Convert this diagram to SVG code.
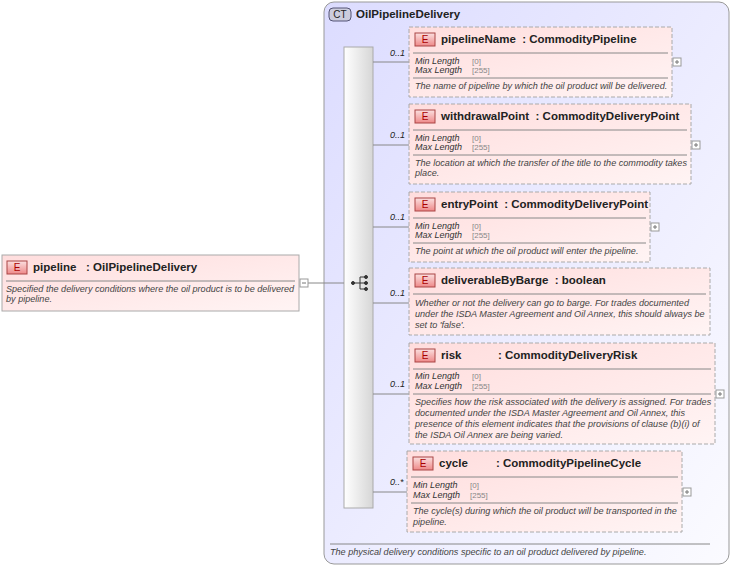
<svg xmlns="http://www.w3.org/2000/svg" width="733" height="567" viewBox="0 0 733 567">
<defs>
<linearGradient id="eg" x1="0" y1="0" x2="1" y2="1"><stop offset="0" stop-color="#fdd"/><stop offset="1" stop-color="#fff4f4"/></linearGradient>
<linearGradient id="ctg" x1="0" y1="0" x2="1" y2="1"><stop offset="0" stop-color="#dcdcff"/><stop offset="1" stop-color="#fbfbff"/></linearGradient>
<linearGradient id="bar" x1="0" y1="0" x2="1" y2="0"><stop offset="0" stop-color="#fff"/><stop offset="1" stop-color="#d6d6d6"/></linearGradient>
<linearGradient id="badge" x1="0" y1="0" x2="0" y2="1"><stop offset="0" stop-color="#fbe0e0"/><stop offset="1" stop-color="#e88"/></linearGradient>
</defs>
<style>
text{font-family:"Liberation Sans",Arial,sans-serif;fill:#222;white-space:pre}
.t{font-size:11.5px;font-weight:bold}
.s{font-size:9px;font-style:italic;fill:#333}
.v{font-size:8px;fill:#888}
.d{font-size:9.1px;font-style:italic;fill:#444}
.el{fill:url(#eg);stroke:#aaa;stroke-dasharray:4,2}
.es{fill:url(#eg);stroke:#aaa}
.ln{stroke:#888;stroke-width:1}
.c{stroke:#888;fill:none}
.bx{fill:#fff;stroke:#999}
.E{fill:url(#badge);stroke:#a44}
.Et{font-size:10px;fill:#a00;text-anchor:middle}
</style>
<g id="ct">
<rect x="324" y="2" width="405" height="562" rx="10" fill="url(#ctg)" stroke="#999"/>
<rect x="329" y="8" width="22" height="13" rx="4" fill="#ccd" stroke="#557"/>
<text x="340" y="18" font-size="10" text-anchor="middle" fill="#335">CT</text>
<text class="t" x="356" y="18">OilPipelineDelivery</text>
<line class="ln" x1="330" y1="544" x2="710" y2="544"/>
<text class="d" x="330" y="555">The physical delivery conditions specific to an oil product delivered by pipeline.</text>
<rect x="344" y="47" width="29" height="461" fill="url(#bar)" stroke="#aaa"/>
<g fill="#333" stroke="#333"><circle cx="353" cy="283" r="1.5"/><line x1="353" y1="283" x2="360" y2="283"/><line x1="360" y1="277" x2="360" y2="289"/><line x1="360" y1="277" x2="365" y2="277"/><line x1="360" y1="283" x2="365" y2="283"/><line x1="360" y1="289" x2="365" y2="289"/><circle cx="366" cy="277" r="1.5"/><circle cx="366" cy="283" r="1.5"/><circle cx="366" cy="289" r="1.5"/></g>
</g>
<g id="connectors">
<line class="c" x1="308" y1="283" x2="344" y2="283"/>
<line class="c" x1="373" y1="62" x2="409" y2="62"/>
<line class="c" x1="373" y1="145" x2="409" y2="145"/>
<line class="c" x1="373" y1="227" x2="409" y2="227"/>
<line class="c" x1="373" y1="303" x2="409" y2="303"/>
<line class="c" x1="373" y1="394" x2="409" y2="394"/>
<line class="c" x1="373" y1="492" x2="407" y2="492"/>
<g class="s"><text x="390" y="56">0..1</text><text x="390" y="138">0..1</text><text x="390" y="220">0..1</text><text x="390" y="296">0..1</text><text x="390" y="387">0..1</text><text x="390" y="485">0..*</text></g>
</g>
<g id="pipeline">
<rect class="es" x="2" y="255" width="297" height="56"/>
<rect class="E" x="7" y="261" width="20" height="13"/><text class="Et" x="17" y="271">E</text>
<text class="t" x="33" y="271">pipeline   : OilPipelineDelivery</text>
<line class="ln" x1="6" y1="281" x2="295" y2="281"/>
<text class="d" x="6" y="292">Specified the delivery conditions where the oil product is to be delivered</text>
<text class="d" x="6" y="302">by pipeline.</text>
<rect class="bx" x="300" y="279" width="8" height="8"/><line x1="302" y1="283" x2="306" y2="283" stroke="#777"/>
</g>
<g id="pipelineName">
<rect class="el" x="409" y="27" width="263" height="70"/>
<rect class="E" x="415" y="33" width="20" height="13"/><text class="Et" x="425" y="43">E</text>
<text class="t" x="441" y="43">pipelineName  : CommodityPipeline</text>
<line class="ln" x1="413" y1="53" x2="668" y2="53"/>
<text class="s" x="415" y="64">Min Length</text><text class="v" x="472" y="64">[0]</text>
<text class="s" x="415" y="73">Max Length</text><text class="v" x="472" y="73">[255]</text>
<line class="ln" x1="413" y1="78" x2="668" y2="78"/>
<text class="d" x="415" y="89">The name of pipeline by which the oil product will be delivered.</text>
<rect class="bx" x="673" y="58" width="8" height="8"/><path d="M675 62h4M677 60v4" stroke="#777"/>
</g>
<g id="withdrawalPoint">
<rect class="el" x="409" y="104" width="282" height="80"/>
<rect class="E" x="415" y="110" width="20" height="13"/><text class="Et" x="425" y="120">E</text>
<text class="t" x="441" y="120">withdrawalPoint  : CommodityDeliveryPoint</text>
<line class="ln" x1="413" y1="130" x2="687" y2="130"/>
<text class="s" x="415" y="141">Min Length</text><text class="v" x="472" y="141">[0]</text>
<text class="s" x="415" y="150">Max Length</text><text class="v" x="472" y="150">[255]</text>
<line class="ln" x1="413" y1="155" x2="687" y2="155"/>
<text class="d" x="415" y="166">The location at which the transfer of the title to the commodity takes</text>
<text class="d" x="415" y="176">place.</text>
<rect class="bx" x="692" y="141" width="8" height="8"/><path d="M694 145h4M696 143v4" stroke="#777"/>
</g>
<g id="entryPoint">
<rect class="el" x="409" y="192" width="241" height="70"/>
<rect class="E" x="415" y="198" width="20" height="13"/><text class="Et" x="425" y="208">E</text>
<text class="t" x="441" y="208">entryPoint  : CommodityDeliveryPoint</text>
<line class="ln" x1="413" y1="218" x2="646" y2="218"/>
<text class="s" x="415" y="229">Min Length</text><text class="v" x="472" y="229">[0]</text>
<text class="s" x="415" y="238">Max Length</text><text class="v" x="472" y="238">[255]</text>
<line class="ln" x1="413" y1="243" x2="646" y2="243"/>
<text class="d" x="415" y="254">The point at which the oil product will enter the pipeline.</text>
<rect class="bx" x="651" y="223" width="8" height="8"/><path d="M653 227h4M655 225v4" stroke="#777"/>
</g>
<g id="deliverableByBarge">
<rect class="el" x="409" y="268" width="301" height="67"/>
<rect class="E" x="415" y="274" width="20" height="13"/><text class="Et" x="425" y="284">E</text>
<text class="t" x="441" y="284">deliverableByBarge  : boolean</text>
<line class="ln" x1="413" y1="294" x2="706" y2="294"/>
<text class="d" x="415" y="306">Whether or not the delivery can go to barge. For trades documented</text>
<text class="d" x="415" y="317">under the ISDA Master Agreement and Oil Annex, this should always be</text>
<text class="d" x="415" y="328">set to 'false'.</text>
</g>
<g id="risk">
<rect class="el" x="409" y="343" width="306" height="101"/>
<rect class="E" x="415" y="349" width="20" height="13"/><text class="Et" x="425" y="359">E</text>
<text class="t" x="441" y="359">risk</text><text class="t" x="498" y="359">: CommodityDeliveryRisk</text>
<line class="ln" x1="413" y1="369" x2="711" y2="369"/>
<text class="s" x="415" y="379">Min Length</text><text class="v" x="472" y="379">[0]</text>
<text class="s" x="415" y="389">Max Length</text><text class="v" x="472" y="389">[255]</text>
<line class="ln" x1="413" y1="394" x2="711" y2="394"/>
<text class="d" x="415" y="405">Specifies how the risk associated with the delivery is assigned. For trades</text>
<text class="d" x="415" y="416">documented under the ISDA Master Agreement and Oil Annex, this</text>
<text class="d" x="415" y="427">presence of this element indicates that the provisions of clause (b)(i) of</text>
<text class="d" x="415" y="438">the ISDA Oil Annex are being varied.</text>
<rect class="bx" x="716" y="390" width="8" height="8"/><path d="M718 394h4M720 392v4" stroke="#777"/>
</g>
<g id="cycle">
<rect class="el" x="407" y="451" width="275" height="81"/>
<rect class="E" x="413" y="457" width="20" height="13"/><text class="Et" x="423" y="467">E</text>
<text class="t" x="439" y="467">cycle</text><text class="t" x="496" y="467">: CommodityPipelineCycle</text>
<line class="ln" x1="411" y1="477" x2="678" y2="477"/>
<text class="s" x="413" y="488">Min Length</text><text class="v" x="470" y="488">[0]</text>
<text class="s" x="413" y="498">Max Length</text><text class="v" x="470" y="498">[255]</text>
<line class="ln" x1="411" y1="503" x2="678" y2="503"/>
<text class="d" x="413" y="514">The cycle(s) during which the oil product will be transported in the</text>
<text class="d" x="413" y="525">pipeline.</text>
<rect class="bx" x="683" y="488" width="8" height="8"/><path d="M685 492h4M687 490v4" stroke="#777"/>
</g>
</svg>
